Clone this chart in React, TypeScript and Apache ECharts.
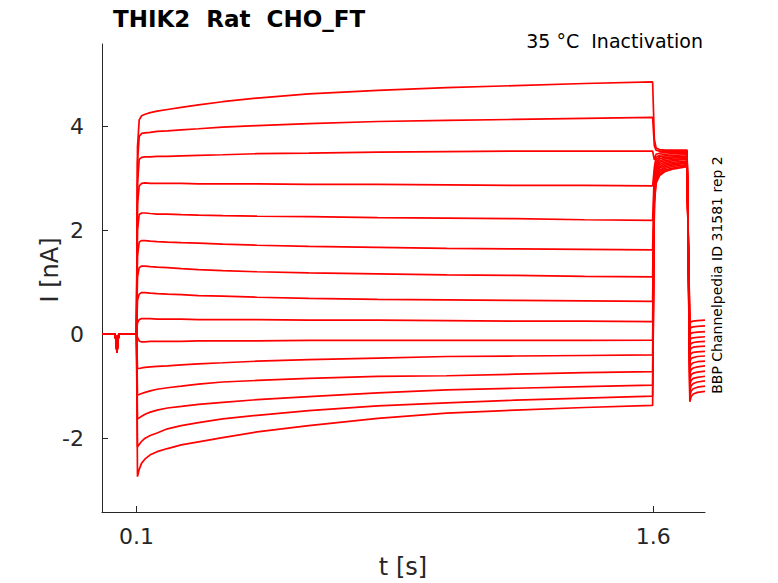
import React, { useEffect, useRef } from "react";
import * as echarts from "echarts";

// Time grid (s)
const TIME_BASE = [0, 0.038, 0.0415, 0.0435, 0.0455, 0.049, 0.1];
const I_BASE = [0, 0, -0.15, -0.35, -0.15, 0, 0];
const TIME_STEP = [0.103, 0.108, 0.115, 0.125, 0.14, 0.16, 0.19, 0.23, 0.28, 0.35, 0.45, 0.6, 0.8, 1.0, 1.2, 1.4, 1.598];
const TIME_HOLD = [1.603, 1.608, 1.618, 1.635, 1.66, 1.698];
const TIME_TAIL = [1.706, 1.71, 1.716, 1.728, 1.75];

// Currents (nA) during the conditioning step, one row per sweep
const STEP_CURRENTS = [
  [3.6, 4.12, 4.2, 4.23, 4.26, 4.29, 4.32, 4.36, 4.41, 4.47, 4.54, 4.62, 4.69, 4.74, 4.78, 4.82, 4.85],
  [3.3, 3.8, 3.86, 3.87, 3.88, 3.9, 3.91, 3.93, 3.95, 3.98, 4.01, 4.05, 4.09, 4.11, 4.13, 4.15, 4.17],
  [2.9, 3.36, 3.4, 3.41, 3.41, 3.42, 3.42, 3.43, 3.44, 3.45, 3.47, 3.48, 3.5, 3.51, 3.52, 3.52, 3.52],
  [2.5, 2.85, 2.9, 2.91, 2.9, 2.9, 2.9, 2.9, 2.89, 2.89, 2.89, 2.88, 2.88, 2.87, 2.86, 2.86, 2.85],
  [2.0, 2.3, 2.33, 2.33, 2.32, 2.31, 2.31, 2.3, 2.29, 2.28, 2.27, 2.26, 2.24, 2.23, 2.22, 2.2, 2.19],
  [1.5, 1.77, 1.8, 1.8, 1.79, 1.78, 1.77, 1.76, 1.75, 1.73, 1.71, 1.69, 1.67, 1.65, 1.64, 1.63, 1.62],
  [1.1, 1.28, 1.31, 1.31, 1.3, 1.29, 1.28, 1.26, 1.24, 1.22, 1.2, 1.18, 1.16, 1.14, 1.13, 1.11, 1.1],
  [0.65, 0.77, 0.8, 0.8, 0.79, 0.78, 0.77, 0.76, 0.74, 0.73, 0.71, 0.69, 0.67, 0.66, 0.65, 0.64, 0.63],
  [0.22, 0.28, 0.3, 0.3, 0.3, 0.29, 0.29, 0.29, 0.28, 0.28, 0.28, 0.27, 0.27, 0.26, 0.25, 0.25, 0.24],
  [-0.06, -0.13, -0.15, -0.15, -0.14, -0.14, -0.14, -0.14, -0.13, -0.13, -0.13, -0.12, -0.12, -0.12, -0.12, -0.12, -0.115],
  [-0.66, -0.66, -0.65, -0.64, -0.63, -0.62, -0.61, -0.59, -0.57, -0.55, -0.52, -0.49, -0.46, -0.43, -0.42, -0.41, -0.4],
  [-1.17, -1.16, -1.14, -1.12, -1.09, -1.06, -1.03, -1.0, -0.96, -0.92, -0.89, -0.85, -0.81, -0.8, -0.77, -0.74, -0.72],
  [-1.63, -1.61, -1.58, -1.54, -1.5, -1.46, -1.42, -1.39, -1.35, -1.31, -1.26, -1.2, -1.13, -1.07, -1.04, -1.01, -0.98],
  [-2.17, -2.12, -2.06, -2.0, -1.95, -1.9, -1.82, -1.76, -1.7, -1.63, -1.56, -1.47, -1.38, -1.32, -1.27, -1.23, -1.19],
  [-2.74, -2.6, -2.48, -2.4, -2.32, -2.26, -2.2, -2.13, -2.07, -1.99, -1.88, -1.76, -1.62, -1.52, -1.46, -1.41, -1.37],
];

// Currents (nA) during the test pulse
const HOLD_CURRENTS = [
  [3.75, 3.58, 3.55, 3.54, 3.54, 3.54],
  [3.62, 3.54, 3.52, 3.52, 3.52, 3.52],
  [3.35, 3.46, 3.48, 3.49, 3.49, 3.49],
  [3.2, 3.4, 3.44, 3.46, 3.47, 3.47],
  [3.1, 3.35, 3.41, 3.43, 3.44, 3.45],
  [3.0, 3.3, 3.37, 3.4, 3.41, 3.42],
  [2.9, 3.25, 3.33, 3.37, 3.39, 3.4],
  [2.85, 3.2, 3.3, 3.34, 3.36, 3.38],
  [2.8, 3.15, 3.26, 3.31, 3.34, 3.36],
  [2.75, 3.1, 3.22, 3.28, 3.31, 3.33],
  [2.7, 3.06, 3.19, 3.25, 3.28, 3.31],
  [2.65, 3.02, 3.15, 3.22, 3.26, 3.29],
  [2.6, 2.98, 3.12, 3.19, 3.23, 3.26],
  [2.55, 2.94, 3.08, 3.16, 3.2, 3.24],
  [2.5, 2.9, 3.05, 3.13, 3.18, 3.22],
];

// Tail currents (nA)
const TAIL_CURRENTS = [
  [-1.3, -1.2, -1.15, -1.12, -1.1],
  [-1.19, -1.09, -1.05, -1.02, -1.0],
  [-1.08, -0.99, -0.95, -0.92, -0.9],
  [-0.97, -0.89, -0.85, -0.83, -0.81],
  [-0.86, -0.78, -0.75, -0.73, -0.71],
  [-0.75, -0.68, -0.65, -0.63, -0.61],
  [-0.64, -0.58, -0.55, -0.53, -0.52],
  [-0.53, -0.47, -0.45, -0.43, -0.42],
  [-0.42, -0.37, -0.35, -0.34, -0.33],
  [-0.32, -0.27, -0.25, -0.24, -0.23],
  [-0.22, -0.18, -0.16, -0.15, -0.14],
  [-0.12, -0.08, -0.07, -0.06, -0.05],
  [-0.02, 0.02, 0.03, 0.04, 0.05],
  [0.09, 0.13, 0.14, 0.15, 0.16],
  [0.21, 0.24, 0.25, 0.26, 0.27],
];

const X_TICKS = [0.1, 1.6];
const Y_TICKS = [-2, 0, 2, 4];
const X_RANGE = [0, 1.75];
const Y_RANGE = [-3.42, 5.58];

const TITLE = "THIK2  Rat  CHO_FT";
const SUBTITLE = "35 °C  Inactivation";
const SIDE_NOTE = "BBP Channelpedia ID 31581 rep 2";

const FONT = "'DejaVu Sans', sans-serif";
const INK = "#262626";

export default function App() {
  const ref = useRef<HTMLDivElement>(null);

  useEffect(() => {
    if (!ref.current) return;
    const chart = echarts.init(ref.current, null, { renderer: "svg" });

    const series = STEP_CURRENTS.map((step, k) => {
      const data: number[][] = [];
      TIME_BASE.forEach((t, i) => data.push([t, I_BASE[i]]));
      TIME_STEP.forEach((t, i) => data.push([t, step[i]]));
      TIME_HOLD.forEach((t, i) => data.push([t, HOLD_CURRENTS[k][i]]));
      TIME_TAIL.forEach((t, i) => data.push([t, TAIL_CURRENTS[k][i]]));
      return {
        type: "line",
        data,
        showSymbol: false,
        symbol: "none",
        lineStyle: { color: "#ff0000", width: 1.7 },
        emphasis: { disabled: true },
      };
    });

    chart.setOption({
      animation: false,
      grid: { left: 102, right: 73, top: 44, bottom: 71, containLabel: false },
      xAxis: {
        type: "value",
        min: X_RANGE[0],
        max: X_RANGE[1],
        splitLine: { show: false },
        axisLine: { onZero: false, lineStyle: { color: INK, width: 1 } },
        axisTick: {
          inside: true,
          length: 6,
          customValues: X_TICKS,
          lineStyle: { color: INK },
        },
        axisLabel: {
          customValues: X_TICKS,
          margin: 13,
          fontFamily: FONT,
          fontSize: 22,
          color: INK,
          formatter: (v: number) => v.toFixed(1),
        },
      },
      yAxis: {
        type: "value",
        min: Y_RANGE[0],
        max: Y_RANGE[1],
        splitLine: { show: false },
        axisLine: { onZero: false, lineStyle: { color: INK, width: 1 } },
        axisTick: {
          inside: true,
          length: 6,
          customValues: Y_TICKS,
          lineStyle: { color: INK },
        },
        axisLabel: {
          customValues: Y_TICKS,
          margin: 18,
          fontFamily: FONT,
          fontSize: 22,
          color: INK,
        },
      },
      series,
      graphic: [
        {
          type: "text",
          x: 113,
          y: 19,
          style: {
            text: TITLE,
            fontFamily: FONT,
            fontWeight: "bold",
            fontSize: 23,
            fill: "#000",
            align: "left",
            verticalAlign: "middle",
          },
        },
        {
          type: "text",
          x: 703,
          y: 41,
          style: {
            text: SUBTITLE,
            fontFamily: FONT,
            fontSize: 19,
            fill: "#000",
            align: "right",
            verticalAlign: "middle",
          },
        },
        {
          type: "text",
          x: 717,
          y: 275,
          rotation: Math.PI / 2,
          style: {
            text: SIDE_NOTE,
            fontFamily: FONT,
            fontSize: 14,
            fill: "#000",
            align: "center",
            verticalAlign: "middle",
          },
        },
        {
          type: "text",
          x: 50,
          y: 270,
          rotation: Math.PI / 2,
          style: {
            text: "I [nA]",
            fontFamily: FONT,
            fontSize: 24,
            fill: INK,
            align: "center",
            verticalAlign: "middle",
          },
        },
        {
          type: "text",
          x: 403,
          y: 567,
          style: {
            text: "t [s]",
            fontFamily: FONT,
            fontSize: 24,
            fill: INK,
            align: "center",
            verticalAlign: "middle",
          },
        },
      ],
    });

    return () => chart.dispose();
  }, []);

  return (
    <div
      ref={ref}
      style={{ position: "absolute", left: 0, top: 0, width: 778, height: 583 }}
    />
  );
}
